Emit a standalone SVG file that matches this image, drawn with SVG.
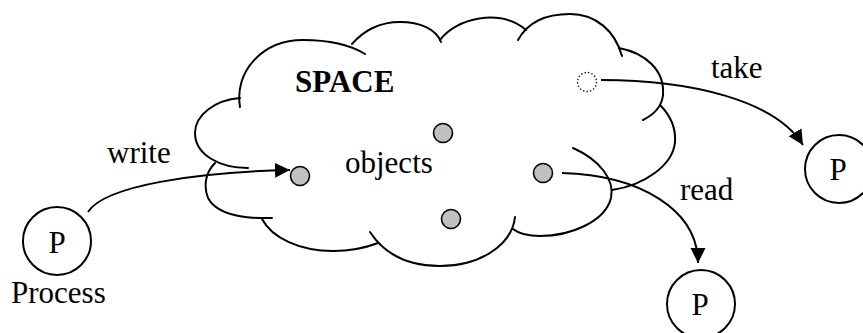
<svg xmlns="http://www.w3.org/2000/svg" width="863" height="333" viewBox="0 0 863 333">
  <style>
    .lobe { fill: none; stroke: #000; stroke-width: 2; stroke-linecap: round; }
    .proc { fill: #fff; stroke: #000; stroke-width: 2; }
    .obj { fill: #c0c0c0; stroke: #000; stroke-width: 1.6; }
    .ghost { fill: none; stroke: #000; stroke-width: 1.4; stroke-dasharray: 1.3 2.2; }
    .edge { fill: none; stroke: #000; stroke-width: 2; marker-end: url(#head); }
    .lbl { font-size: 31px; fill: #000; }
    .title { font-weight: bold; }
    .mid { text-anchor: middle; }
  </style>
  <defs>
    <marker id="head" markerUnits="userSpaceOnUse" markerWidth="16" markerHeight="16" viewBox="0 0 16 16" refX="15" refY="7.5" orient="auto">
      <path d="M0,0 L15,7.5 L0,15 Z" fill="#000"/>
    </marker>
  </defs>

  <g font-family="Liberation Serif, DejaVu Serif, serif">
  <!-- tuple space cloud, drawn as overlapping arcs -->
  <g id="space">
    <path class="lobe" d="M240,107 C234,72 262,40 303,40 C330,40 352,46 365,54"/>
    <path class="lobe" d="M352,44 C366,28 384,22 400,22 C420,22 436,29 441,42"/>
    <path class="lobe" d="M440,40 C456,18 500,8 526,30"/>
    <path class="lobe" d="M518,40 C530,18 552,14 570,14 C596,14 615,31 622,56"/>
    <path class="lobe" d="M619,48 C645,53 665,70 663,95 C662,105 655,114 643,120"/>
    <path class="lobe" d="M660,105 C670,115 676,128 675,142 C673,165 645,185 612,190"/>
    <path class="lobe" d="M573,148 C600,160 615,180 611,198 C605,222 570,236 540,236 C528,236 518,233 513,229"/>
    <path class="lobe" d="M515,217 C512,245 480,266 440,266 C410,266 385,255 370,232"/>
    <path class="lobe" d="M378,243 C360,250 345,251 333,251 C300,251 272,238 262,219"/>
    <path class="lobe" d="M215,163 C206,172 203,185 208,198 C216,213 240,219 272,218"/>
    <path class="lobe" d="M240,98 C215,100 195,115 195,133 C195,155 220,168 248,168"/>
    <text class="lbl title" x="295" y="92">SPACE</text>
    <text class="lbl" x="345" y="173">objects</text>
  </g>

  <!-- objects held in the space -->
  <g id="obj-written"><circle class="obj" cx="300" cy="176" r="9.5"/></g>
  <g id="obj-top"><circle class="obj" cx="443" cy="133" r="9.5"/></g>
  <g id="obj-read"><circle class="obj" cx="543" cy="173" r="9.5"/></g>
  <g id="obj-bottom"><circle class="obj" cx="451" cy="219" r="9.5"/></g>
  <g id="obj-taken"><circle class="ghost" cx="587" cy="82" r="9.5"/></g>

  <!-- processes -->
  <g id="process-writer">
    <circle class="proc" cx="57" cy="241" r="34"/>
    <text class="lbl mid" x="57" y="253">P</text>
    <text class="lbl" x="11" y="303">Process</text>
  </g>
  <g id="process-taker">
    <circle class="proc" cx="839" cy="169" r="34"/>
    <text class="lbl mid" x="838" y="180">P</text>
  </g>
  <g id="process-reader">
    <circle class="proc" cx="701" cy="304" r="34"/>
    <text class="lbl mid" x="700" y="315">P</text>
  </g>

  <!-- operations -->
  <g id="connectors">
    <path class="edge" d="M88,212 C105,185 200,172 290,170"/>
    <path class="edge" d="M601,80 C690,80 775,100 803,145"/>
    <path class="edge" d="M562,173 C640,175 698,210 698,263"/>
    <text class="lbl" x="107" y="163">write</text>
    <text class="lbl" x="711" y="78">take</text>
    <text class="lbl" x="680" y="200">read</text>
  </g>
  </g>
</svg>
